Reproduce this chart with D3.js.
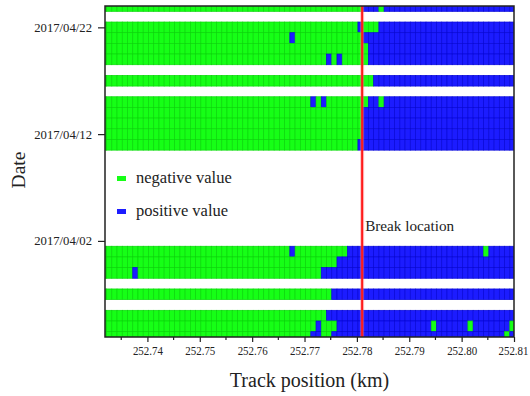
<!DOCTYPE html>
<html>
<head>
<meta charset="utf-8">
<script src="https://cdn.jsdelivr.net/npm/d3@7"></script>
<style>
  html, body { margin: 0; padding: 0; background: #fff; }
  svg { display: block; font-family: "Liberation Serif", "Times New Roman", serif; }
</style>
</head>
<body>
<svg id="chart" width="530" height="396"></svg>
<script>
// ---- data ----
// Track-position cells: centre of first cell, step between cells, number of cells
const firstPosition = 252.7317;
const positionStep = 0.001;
const positionCount = 79;

// Dates that have data (rows), top to bottom
const rowDates = [
  "2017-04-24", "2017-04-22", "2017-04-21", "2017-04-20", "2017-04-19",
  "2017-04-17", "2017-04-15", "2017-04-14", "2017-04-13", "2017-04-12",
  "2017-04-11", "2017-04-01", "2017-03-31", "2017-03-30", "2017-03-28",
  "2017-03-26", "2017-03-25", "2017-03-24"
];

// Sign of the value in each cell along the track, as runs [sign, cell count]
// (-1 = negative value, +1 = positive value), one list per row date above
const rowSignRuns = [
  [[-1, 50], [1, 3], [-1, 1], [1, 25]],
  [[-1, 49], [1, 1], [-1, 3], [1, 26]],
  [[-1, 36], [1, 1], [-1, 13], [1, 29]],
  [[-1, 51], [1, 28]],
  [[-1, 43], [1, 1], [-1, 1], [1, 1], [-1, 5], [1, 28]],
  [[-1, 52], [1, 27]],
  [[-1, 40], [1, 1], [-1, 1], [1, 1], [-1, 8], [1, 2], [-1, 1], [1, 25]],
  [[-1, 50], [1, 29]],
  [[-1, 50], [1, 29]],
  [[-1, 50], [1, 29]],
  [[-1, 49], [1, 30]],
  [[-1, 36], [1, 1], [-1, 10], [1, 26], [-1, 1], [1, 5]],
  [[-1, 45], [1, 34]],
  [[-1, 6], [1, 1], [-1, 35], [1, 37]],
  [[-1, 44], [1, 35]],
  [[-1, 43], [1, 36]],
  [[-1, 41], [1, 1], [-1, 3], [1, 18], [-1, 1], [1, 6], [-1, 1], [1, 7], [-1, 1]],
  [[-1, 40], [1, 2], [-1, 2], [1, 33], [-1, 1], [1, 1]]
];

const xDomain = [252.7319, 252.81];
const dateDomain = ["2017-03-24", "2017-04-24"];
const xTickValues = [252.74, 252.75, 252.76, 252.77, 252.78, 252.79, 252.80, 252.81];
const xMinorTickValues = [252.735, 252.745, 252.755, 252.765, 252.775, 252.785, 252.795, 252.805];
const yTickDates = ["2017-04-02", "2017-04-12", "2017-04-22"];
const breakLocation = 252.781;
const legendItems = [
  { label: "negative value", sign: -1 },
  { label: "positive value", sign: 1 }
];

// ---- drawing ----
const svg = d3.select("#chart");
const parse = d3.timeParse("%Y-%m-%d");
const plot = { left: 105, right: 514, top: 6, bottom: 337 };

const x = d3.scaleLinear().domain(xDomain).range([plot.left, plot.right]);
const y = d3.scaleTime().domain(dateDomain.map(parse)).range([plot.bottom, plot.top]);

const fill = { "-1": "#16ff16", "1": "#1c1cff" };
const edge = { "-1": "#0bd80b", "1": "#0808d8" };

const positions = d3.range(positionCount).map(i => +(firstPosition + i * positionStep).toFixed(4));

// expand runs into cells
const cells = [];
rowDates.forEach((ds, r) => {
  const d = parse(ds);
  let idx = 0;
  rowSignRuns[r].forEach(([sign, count]) => {
    for (let k = 0; k < count; k++) {
      cells.push({ date: d, pos: positions[idx], sign });
      idx++;
    }
  });
});

svg.append("defs").append("clipPath").attr("id", "plotclip")
  .append("rect")
  .attr("x", plot.left).attr("y", plot.top)
  .attr("width", plot.right - plot.left).attr("height", plot.bottom - plot.top);

const g = svg.append("g").attr("clip-path", "url(#plotclip)");

g.selectAll("rect.cell").data(cells).join("rect")
  .attr("class", "cell")
  .attr("x", d => x(d.pos - positionStep / 2))
  .attr("width", d => x(d.pos + positionStep / 2) - x(d.pos - positionStep / 2))
  .attr("y", d => y(d3.timeHour.offset(d.date, 12)))
  .attr("height", d => y(d3.timeHour.offset(d.date, -12)) - y(d3.timeHour.offset(d.date, 12)))
  .attr("fill", d => fill[d.sign])
  .attr("stroke", d => edge[d.sign])
  .attr("stroke-width", 0.7);

// break line
const bx = x(breakLocation);
svg.append("line")
  .attr("x1", bx).attr("x2", bx).attr("y1", plot.top).attr("y2", plot.bottom)
  .attr("stroke", "#ff8080").attr("stroke-opacity", 0.45).attr("stroke-width", 4);
svg.append("line")
  .attr("x1", bx).attr("x2", bx).attr("y1", plot.top).attr("y2", plot.bottom)
  .attr("stroke", "#ff1a1a").attr("stroke-width", 2);
svg.append("text")
  .attr("x", bx + 3).attr("y", 230.5)
  .attr("font-size", 15.2).attr("fill", "#222")
  .text("Break location");

// legend
const leg = svg.append("g");
legendItems.forEach((it, i) => {
  const ly = 176 + i * 33;
  leg.append("rect")
    .attr("x", 117).attr("y", ly).attr("width", 9).attr("height", 5)
    .attr("fill", fill[it.sign]);
  leg.append("text")
    .attr("x", 136).attr("y", ly + 7)
    .attr("font-size", 16.5).attr("fill", "#222")
    .text(it.label);
});

// axes
const xAxis = d3.axisBottom(x).tickValues(xTickValues).tickFormat(d3.format(".2f"))
  .tickSizeInner(5).tickSizeOuter(0).tickPadding(4);
const xg = svg.append("g").attr("transform", `translate(0,${plot.bottom})`).call(xAxis);
xg.select(".domain").remove();
xg.selectAll("line").attr("stroke", "#222").attr("stroke-width", 1.2);
const lastTick = xTickValues[xTickValues.length - 1];
xg.selectAll("text")
  .attr("font-family", "Liberation Serif, serif")
  .attr("font-size", 12).attr("fill", "#222")
  .attr("textLength", 30).attr("lengthAdjust", "spacingAndGlyphs")
  .filter(d => d === lastTick)
  .attr("text-anchor", "end").attr("x", 14);

svg.append("g").selectAll("line").data(xMinorTickValues).join("line")
  .attr("x1", d => x(d)).attr("x2", d => x(d))
  .attr("y1", plot.bottom).attr("y2", plot.bottom + 3)
  .attr("stroke", "#222").attr("stroke-width", 1.2);

const yAxis = d3.axisLeft(y).tickValues(yTickDates.map(parse))
  .tickFormat(d3.timeFormat("%Y/%m/%d")).tickSizeInner(7).tickSizeOuter(0).tickPadding(6);
const yg = svg.append("g").attr("transform", `translate(${plot.left},0)`).call(yAxis);
yg.select(".domain").remove();
yg.selectAll("line").attr("stroke", "#222").attr("stroke-width", 1.2);
yg.selectAll("text")
  .attr("font-family", "Liberation Serif, serif")
  .attr("font-size", 12.7).attr("fill", "#222");

// frame
svg.append("rect")
  .attr("x", plot.left).attr("y", plot.top)
  .attr("width", plot.right - plot.left).attr("height", plot.bottom - plot.top)
  .attr("fill", "none").attr("stroke", "#222").attr("stroke-width", 1.5);

// titles
svg.append("text")
  .attr("x", (plot.left + plot.right) / 2).attr("y", 387)
  .attr("text-anchor", "middle").attr("font-size", 20).attr("fill", "#222")
  .text("Track position (km)");
svg.append("text")
  .attr("transform", `translate(25,170) rotate(-90)`)
  .attr("text-anchor", "middle").attr("font-size", 19.5).attr("fill", "#222")
  .text("Date");
</script>
</body>
</html>
